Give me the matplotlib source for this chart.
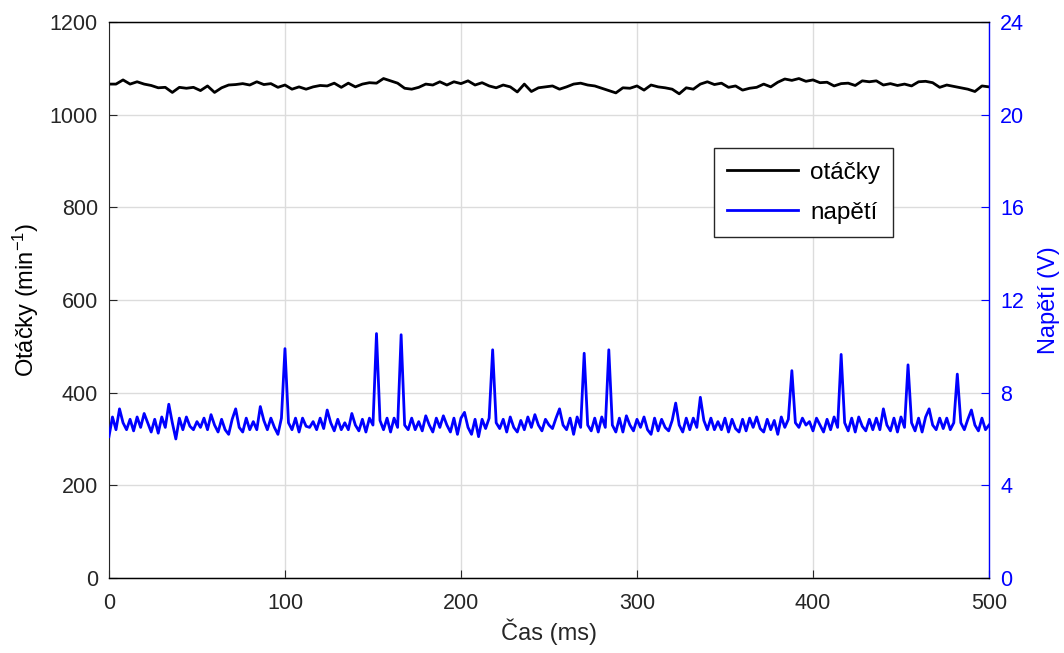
import matplotlib.pyplot as plt
import numpy as np

plt.rcParams["font.family"] = ["Liberation Sans", "DejaVu Sans"]
plt.rcParams["mathtext.fontset"] = "custom"
plt.rcParams["mathtext.rm"] = "Liberation Sans"
plt.rcParams["mathtext.it"] = "Liberation Sans"

# speed (min^-1), sampled every 4 ms
rpm_step = 4
rpm = [
    1066, 1066, 1075, 1066, 1071, 1066, 1063, 1058, 1059, 1048,
    1059, 1057, 1059, 1052, 1062, 1048, 1058, 1064, 1065, 1067,
    1064, 1071, 1065, 1067, 1059, 1064, 1055, 1060, 1055, 1060,
    1063, 1062, 1068, 1059, 1068, 1060, 1066, 1069, 1068, 1078,
    1073, 1068, 1057, 1055, 1059, 1066, 1064, 1071, 1064, 1071,
    1067, 1073, 1064, 1069, 1062, 1058, 1064, 1060, 1049, 1066,
    1050, 1058, 1060, 1062, 1055, 1060, 1066, 1068, 1064, 1062,
    1057, 1052, 1047, 1058, 1057, 1062, 1053, 1064, 1060, 1058,
    1055, 1045, 1058, 1055, 1066, 1071, 1065, 1068, 1059, 1062,
    1053, 1057, 1059, 1066, 1060, 1070, 1077, 1074, 1078, 1072,
    1075, 1069, 1070, 1062, 1067, 1068, 1063, 1073, 1071, 1073,
    1064, 1067, 1063, 1066, 1062, 1071, 1072, 1069, 1059, 1064,
    1061, 1058, 1055, 1050, 1062, 1060,
]

# voltage (V), sampled every 2 ms
volt_step = 2
volt = [
    6.1, 6.95, 6.4, 7.3, 6.7, 6.4, 6.85, 6.35, 6.95, 6.5,
    7.1, 6.7, 6.3, 6.85, 6.25, 6.95, 6.5, 7.5, 6.7, 6.0,
    6.9, 6.4, 6.95, 6.55, 6.4, 6.75, 6.5, 6.9, 6.4, 7.05,
    6.6, 6.3, 6.85, 6.4, 6.2, 6.85, 7.3, 6.5, 6.3, 6.9,
    6.4, 6.75, 6.4, 7.4, 6.8, 6.4, 6.9, 6.5, 6.2, 6.9,
    9.9, 6.7, 6.4, 6.9, 6.3, 6.9, 6.55, 6.5, 6.75, 6.4,
    6.9, 6.45, 7.25, 6.7, 6.35, 6.85, 6.4, 6.7, 6.4, 7.1,
    6.6, 6.35, 6.85, 6.3, 6.9, 6.6, 10.55, 6.8, 6.4, 6.9,
    6.3, 6.9, 6.5, 10.5, 6.6, 6.4, 6.9, 6.4, 6.75, 6.35,
    7.0, 6.6, 6.3, 6.9, 6.5, 7.0, 6.6, 6.3, 6.9, 6.2,
    6.9, 7.15, 6.5, 6.2, 6.85, 6.1, 6.85, 6.45, 6.9, 9.85,
    6.7, 6.45, 6.85, 6.3, 6.95, 6.5, 6.3, 6.8, 6.4, 6.95,
    6.5, 7.05, 6.6, 6.35, 6.85, 6.6, 6.45, 6.9, 7.3, 6.6,
    6.4, 6.9, 6.2, 6.95, 6.5, 9.7, 6.6, 6.35, 6.9, 6.3,
    6.95, 6.5, 9.85, 6.6, 6.3, 6.9, 6.3, 7.0, 6.6, 6.35,
    6.85, 6.5, 6.95, 6.4, 6.2, 6.9, 6.35, 6.85, 6.5, 6.35,
    6.8, 7.55, 6.6, 6.3, 6.9, 6.4, 6.9, 6.5, 7.8, 6.8,
    6.4, 6.9, 6.4, 6.75, 6.4, 6.9, 6.3, 6.85, 6.45, 6.3,
    6.85, 6.35, 6.9, 6.5, 6.95, 6.45, 6.3, 6.85, 6.4, 6.8,
    6.2, 6.95, 6.5, 6.85, 8.95, 6.7, 6.5, 6.9, 6.6, 6.75,
    6.35, 6.9, 6.6, 6.3, 6.85, 6.4, 6.95, 6.5, 9.65, 6.7,
    6.35, 6.9, 6.3, 6.95, 6.55, 6.35, 6.85, 6.4, 6.9, 6.4,
    7.3, 6.6, 6.35, 6.9, 6.3, 6.95, 6.5, 9.2, 6.7, 6.35,
    6.9, 6.3, 6.95, 7.3, 6.6, 6.4, 6.9, 6.45, 6.9, 6.4,
    6.7, 8.8, 6.7, 6.4, 6.85, 7.25, 6.6, 6.35, 6.9, 6.4,
    6.6,
]

t_rpm = np.arange(len(rpm)) * rpm_step
t_volt = np.arange(len(volt)) * volt_step

text_c = "#262626"
blue = "#0000ff"

fig = plt.figure(figsize=(10.64, 6.53), dpi=100)
ax = fig.add_axes([0.1024, 0.1149, 0.8271, 0.8514])
ax2 = ax.twinx()

l1, = ax.plot(t_rpm, rpm, color="black", lw=2)
l2, = ax2.plot(t_volt, volt, color=blue, lw=2)

ax.set_xlim(0, 500)
ax.set_ylim(0, 1200)
ax2.set_ylim(0, 24)
ax.set_xticks(range(0, 501, 100))
ax.set_yticks(range(0, 1201, 200))
ax2.set_yticks(range(0, 25, 4))

ax.grid(True, color="#dcdcdc", lw=1)
ax.set_axisbelow(True)

ax.tick_params(axis="both", direction="in", length=6, labelsize=15.5,
               colors=text_c, pad=8)
ax.tick_params(axis="x", pad=11)
ax2.tick_params(axis="y", direction="in", length=6, labelsize=15.5,
                colors=blue, pad=8)

for s in ["left", "top", "bottom"]:
    ax.spines[s].set_color(text_c)
ax2.spines["right"].set_color(blue)
ax2.spines["left"].set_visible(False)
ax.spines["right"].set_visible(False)
for s in ax2.spines.values():
    s.set_linewidth(1)

ax.set_xlabel("Čas (ms)", fontsize=17, color=text_c, labelpad=3)
ax.set_ylabel("Otáčky (min$^{\\mathrm{-1}}$)", fontsize=17, color="black",
              labelpad=6)
ax2.set_ylabel("Napětí (V)", fontsize=17, color=blue, labelpad=10)

leg = ax2.legend([l1, l2], ["otáčky", "napětí"], loc="upper left",
                 bbox_to_anchor=(0.6875, 0.773), borderaxespad=0,
                 fontsize=17.5, frameon=True, fancybox=False,
                 handlelength=2.9, borderpad=0.55, labelspacing=0.75,
                 handletextpad=0.5)
leg.get_frame().set_edgecolor(text_c)
leg.get_frame().set_linewidth(1)
leg.get_frame().set_alpha(1)

fig.savefig("out.png", dpi=100)
